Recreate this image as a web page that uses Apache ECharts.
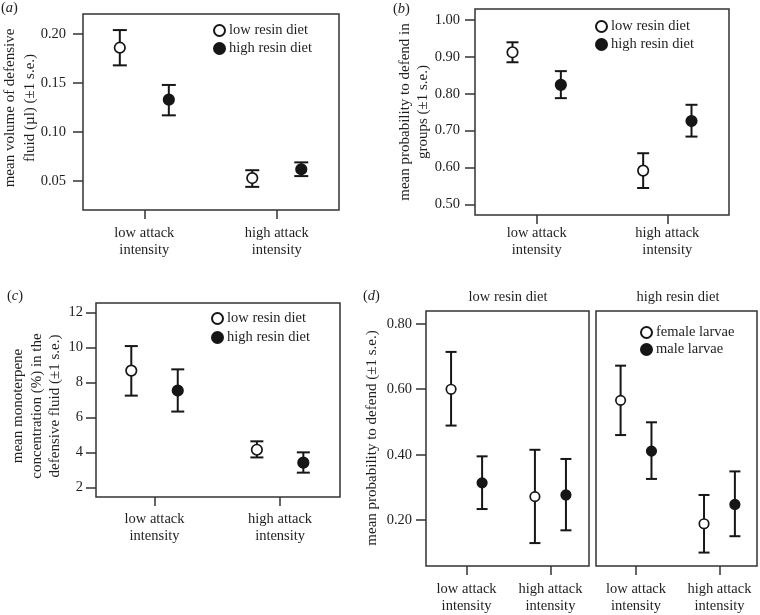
<!DOCTYPE html>
<html>
<head>
<meta charset="utf-8">
<script src="https://cdn.jsdelivr.net/npm/echarts@6/dist/echarts.min.js"></script>
<style>html,body{margin:0;padding:0;background:#fff}#c{width:760px;height:615px}</style>
</head>
<body>
<div id="c"></div>
<script>
// ---- data ----
const categories = ['low attack\nintensity', 'high attack\nintensity'];

// (a) mean volume of defensive fluid
const aLowResinMean = [0.186, 0.053];
const aLowResinLo   = [0.168, 0.044];
const aLowResinHi   = [0.204, 0.061];
const aHighResinMean = [0.133, 0.062];
const aHighResinLo   = [0.117, 0.055];
const aHighResinHi   = [0.148, 0.069];
const aTicks = [0.05, 0.10, 0.15, 0.20];

// (b) mean probability to defend in groups
const bLowResinMean = [0.912, 0.592];
const bLowResinLo   = [0.885, 0.545];
const bLowResinHi   = [0.939, 0.639];
const bHighResinMean = [0.824, 0.726];
const bHighResinLo   = [0.788, 0.684];
const bHighResinHi   = [0.861, 0.770];
const bTicks = [0.50, 0.60, 0.70, 0.80, 0.90, 1.00];

// (c) mean monoterpene concentration
const cLowResinMean = [8.67, 4.15];
const cLowResinLo   = [7.24, 3.71];
const cLowResinHi   = [10.07, 4.63];
const cHighResinMean = [7.53, 3.41];
const cHighResinLo   = [6.33, 2.84];
const cHighResinHi   = [8.74, 4.00];
const cTicks = [2, 4, 6, 8, 10, 12];

// (d) mean probability to defend, by diet facet and sex
const dLowDietFemaleMean = [0.600, 0.272];
const dLowDietFemaleLo   = [0.489, 0.130];
const dLowDietFemaleHi   = [0.714, 0.415];
const dLowDietMaleMean   = [0.314, 0.277];
const dLowDietMaleLo     = [0.234, 0.169];
const dLowDietMaleHi     = [0.395, 0.387];
const dHighDietFemaleMean = [0.566, 0.189];
const dHighDietFemaleLo   = [0.460, 0.101];
const dHighDietFemaleHi   = [0.672, 0.277];
const dHighDietMaleMean   = [0.411, 0.248];
const dHighDietMaleLo     = [0.326, 0.151];
const dHighDietMaleHi     = [0.499, 0.349];
const dTicks = [0.20, 0.40, 0.60, 0.80];
const facetTitles = ['low resin diet', 'high resin diet'];

// ---- styles ----
const FONT = 'Liberation Serif';
const INK = '#161616';
const FRAME = '#333333';
const TXT = '#1e1e1e';
const DODGE = 0.185;
const catPos = [1, 2];

const openStyle = {color: '#ffffff', borderColor: INK, borderWidth: 1.7, opacity: 1};
const fillStyle = {color: INK, borderColor: INK, borderWidth: 1.7, opacity: 1};

function errRenderer(capHalf) {
  return function (params, api) {
    const x = api.value(0), lo = api.value(1), hi = api.value(2);
    const p1 = api.coord([x, lo]), p2 = api.coord([x, hi]);
    const s = {stroke: INK, lineWidth: 2};
    return {type: 'group', children: [
      {type: 'line', shape: {x1: p1[0], y1: p1[1], x2: p2[0], y2: p2[1]}, style: s},
      {type: 'line', shape: {x1: p1[0] - capHalf, y1: p1[1], x2: p1[0] + capHalf, y2: p1[1]}, style: s},
      {type: 'line', shape: {x1: p2[0] - capHalf, y1: p2[1], x2: p2[0] + capHalf, y2: p2[1]}, style: s}
    ]};
  };
}

const grids = [], xAxes = [], yAxes = [], series = [], legends = [];

function addPanel(cfg) {
  const gi = grids.length;
  grids.push({left: cfg.box[0], top: cfg.box[1], width: cfg.box[2], height: cfg.box[3],
    show: true, borderColor: FRAME, borderWidth: 1.5, backgroundColor: 'transparent'});
  xAxes.push({type: 'value', gridIndex: gi, min: cfg.xr[0], max: cfg.xr[1],
    axisLine: {show: false}, splitLine: {show: false},
    axisTick: {show: true, customValues: catPos, length: 9, lineStyle: {color: FRAME, width: 1.5}},
    axisLabel: {show: true, customValues: catPos, margin: cfg.xm,
      formatter: v => categories[Math.round(v) - 1],
      fontFamily: FONT, fontSize: 14.5, color: TXT, lineHeight: 17}});
  const yax = {type: 'value', gridIndex: gi, min: cfg.yr[0], max: cfg.yr[1],
    axisLine: {show: false}, splitLine: {show: false},
    axisTick: {show: !!cfg.ticks, customValues: cfg.ticks || [], length: 10, lineStyle: {color: FRAME, width: 1.5}},
    axisLabel: {show: !!cfg.ticks, customValues: cfg.ticks || [], margin: cfg.ym,
      formatter: v => v.toFixed(cfg.dec), fontFamily: FONT, fontSize: 14.5, color: TXT}};
  yAxes.push(yax);
  cfg.groups.forEach((g, k) => {
    const off = k === 0 ? -DODGE : DODGE;
    series.push({type: 'custom', name: 'err' + gi + '_' + k, xAxisIndex: gi, yAxisIndex: gi,
      renderItem: errRenderer(cfg.cap), encode: {x: 0, y: [1, 2]}, z: 2, silent: true,
      data: g.mean.map((m, i) => [catPos[i] + off, g.lo[i], g.hi[i]])});
    series.push({type: 'scatter', name: g.name, xAxisIndex: gi, yAxisIndex: gi, z: 3,
      symbol: 'circle', symbolSize: cfg.sym, itemStyle: k === 0 ? openStyle : fillStyle,
      emphasis: {disabled: true}, silent: true,
      data: g.mean.map((m, i) => [catPos[i] + off, m])});
  });
  if (cfg.legend) {
    legends.push({orient: 'vertical', left: cfg.legend[0], top: cfg.legend[1], selectedMode: false,
      icon: 'circle', itemWidth: 11, itemHeight: 11, itemGap: cfg.legend[2], padding: 0,
      data: cfg.groups.map(g => g.name),
      itemStyle: {opacity: 1},
      textStyle: {fontFamily: FONT, fontSize: 14.5, color: TXT, lineHeight: 17, padding: [0, 0, 0, -1]}});
  }
}

addPanel({box: [83, 14, 256, 196], xr: [0.537, 2.47], yr: [0.0204, 0.2204], ticks: aTicks, dec: 2,
  xm: 15, ym: 17, cap: 7, sym: 10.5, legend: [213, 22, 1],
  groups: [
    {name: 'low resin diet', mean: aLowResinMean, lo: aLowResinLo, hi: aLowResinHi},
    {name: 'high resin diet', mean: aHighResinMean, lo: aHighResinLo, hi: aHighResinHi}]});

addPanel({box: [475, 9, 254, 206], xr: [0.528, 2.472], yr: [0.472, 1.029], ticks: bTicks, dec: 2,
  xm: 10, ym: 15, cap: 6, sym: 10.5, legend: [595, 18, 1],
  groups: [
    {name: 'low resin diet', mean: bLowResinMean, lo: bLowResinLo, hi: bLowResinHi},
    {name: 'high resin diet', mean: bHighResinMean, lo: bHighResinLo, hi: bHighResinHi}]});

addPanel({box: [96, 303, 244, 194], xr: [0.534, 2.477], yr: [1.45, 12.53], ticks: cTicks, dec: 0,
  xm: 14, ym: 13, cap: 6.5, sym: 10.5, legend: [211, 310, 2],
  groups: [
    {name: 'low resin diet', mean: cLowResinMean, lo: cLowResinLo, hi: cLowResinHi},
    {name: 'high resin diet', mean: cHighResinMean, lo: cHighResinLo, hi: cHighResinHi}]});

addPanel({box: [426, 311, 163, 257], xr: [0.516, 2.46], yr: [0.06, 0.839], ticks: dTicks, dec: 2,
  xm: 15, ym: 14, cap: 5.5, sym: 9.5, legend: null,
  groups: [
    {name: 'female larvae', mean: dLowDietFemaleMean, lo: dLowDietFemaleLo, hi: dLowDietFemaleHi},
    {name: 'male larvae', mean: dLowDietMaleMean, lo: dLowDietMaleLo, hi: dLowDietMaleHi}]});

addPanel({box: [596, 311, 161, 257], xr: [0.52, 2.45], yr: [0.06, 0.839], ticks: null, dec: 2,
  xm: 15, ym: 14, cap: 5.5, sym: 9.5, legend: [640, 324, 0],
  groups: [
    {name: 'female larvae', mean: dHighDietFemaleMean, lo: dHighDietFemaleLo, hi: dHighDietFemaleHi},
    {name: 'male larvae', mean: dHighDietMaleMean, lo: dHighDietMaleLo, hi: dHighDietMaleHi}]});

// ---- text ----
function tag(letter, x, y) {
  return {type: 'text', left: x, top: y, silent: true,
    style: {text: '{n|(}{i|' + letter + '}{n|)}', fill: TXT,
      rich: {n: {fontFamily: FONT, fontSize: 14.5, fill: TXT}, i: {fontFamily: FONT, fontSize: 14.5, fontStyle: 'italic', fill: TXT}}}};
}
function vtitle(text, cx, cy, lh) {
  return {type: 'text', x: cx, y: cy, rotation: Math.PI / 2, silent: true,
    style: {text: text, fontFamily: FONT, fontSize: 15, fill: TXT, align: 'center', verticalAlign: 'middle', lineHeight: lh}};
}
function htitle(text, cx, cy) {
  return {type: 'text', x: cx, y: cy, silent: true,
    style: {text: text, fontFamily: FONT, fontSize: 14.5, fill: TXT, align: 'center', verticalAlign: 'middle'}};
}

const graphic = [
  tag('a', 1, 1), tag('b', 393, 2), tag('c', 7, 289), tag('d', 363, 289),
  vtitle('mean volume of defensive\nfluid (µl) (±1 s.e.)', 20, 108, 20),
  vtitle('mean probability to defend in\ngroups (±1 s.e.)', 414, 112, 18),
  vtitle('mean monoterpene\nconcentration (%) in the\ndefensive fluid (±1 s.e.)', 37, 406, 18.5),
  vtitle('mean probability to defend (±1 s.e.)', 372, 438, 18),
  htitle(facetTitles[0], 508, 297),
  htitle(facetTitles[1], 678, 297)
];

const chart = echarts.init(document.getElementById('c'), null, {renderer: 'canvas'});
chart.setOption({
  animation: false,
  backgroundColor: '#ffffff',
  grid: grids, xAxis: xAxes, yAxis: yAxes, series: series, legend: legends, graphic: graphic
});
</script>
</body>
</html>
